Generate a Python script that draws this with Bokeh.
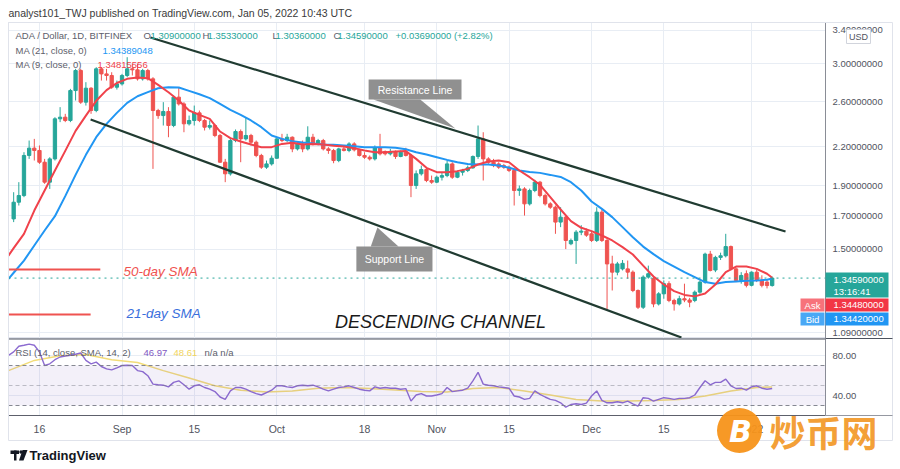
import pandas as pd
from bokeh.plotting import figure
from bokeh.models import (Range1d, FixedTicker, PrintfTickFormatter, Span,
                          BoxAnnotation, ColumnDataSource, GridBox)
from bokeh.core.properties import value
from bokeh.embed import file_html
from bokeh.resources import INLINE

# ------------------------------------------------------------------ data
header = "analyst101_TWJ published on TradingView.com, Jan 05, 2022 10:43 UTC"
candle_dates = pd.date_range("2021-08-11", "2022-01-05", freq="D")

open_ = [1.679, 1.787, 1.832, 2.128, 2.187, 2.168, 2.075, 1.926, 2.101, 2.440, 2.455, 2.425, 2.712, 2.923, 2.597, 2.736, 2.517, 2.941, 2.886, 2.869, 2.746,
         2.780, 2.869, 2.941, 2.930, 2.833, 2.923, 2.833, 2.517, 2.470, 2.508, 2.380, 2.646, 2.580, 2.395, 2.425, 2.495, 2.425, 2.365, 2.380, 2.293, 2.075, 1.987, 2.250, 2.327, 2.264, 2.293, 2.236, 2.128, 2.037, 2.062,
         2.106, 2.264, 2.250, 2.278, 2.181, 2.222, 2.181, 2.278, 2.222, 2.250, 2.181, 2.168, 2.088, 2.181, 2.168, 2.222, 2.173, 2.128, 2.114, 2.101, 2.190, 2.160, 2.141, 2.160, 2.120, 2.154, 2.128, 1.902, 1.987, 2.019, 1.938,
         1.926, 1.962, 1.974, 2.062, 1.962, 1.999, 2.012, 2.032, 2.120, 2.264, 2.101, 2.075, 2.062, 2.049, 2.037, 2.012, 1.867, 1.878, 1.776, 1.867, 1.926, 1.832, 1.776, 1.754, 1.659, 1.690, 1.530, 1.549, 1.598, 1.604,
         1.588, 1.549, 1.722, 1.549, 1.419, 1.376, 1.393, 1.393, 1.376, 1.285, 1.207, 1.351, 1.343, 1.222, 1.269, 1.318, 1.238, 1.222, 1.246, 1.240, 1.238, 1.277, 1.326, 1.472, 1.387, 1.454, 1.463, 1.514, 1.393, 1.334, 1.368,
         1.310, 1.376, 1.334, 1.326, 1.309]
high = [1.855, 1.926, 2.154, 2.250, 2.264, 2.209, 2.101, 2.114, 2.455, 2.549, 2.486, 2.729, 2.941, 2.941, 2.798, 2.746, 2.959, 2.959, 2.941, 2.904, 2.815,
        2.886, 3.072, 2.996, 2.996, 2.941, 2.941, 2.851, 2.533, 2.597, 2.549, 2.662, 2.746, 2.597, 2.470, 2.564, 2.517, 2.440, 2.425, 2.395, 2.307, 2.101, 2.264, 2.345, 2.345, 2.455, 2.307, 2.250, 2.141, 2.088, 2.128,
        2.278, 2.307, 2.307, 2.285, 2.236, 2.250, 2.373, 2.307, 2.264, 2.264, 2.195, 2.181, 2.190, 2.209, 2.236, 2.236, 2.181, 2.154, 2.128, 2.209, 2.307, 2.168, 2.181, 2.168, 2.168, 2.190, 2.141, 2.012, 2.049, 2.032, 1.974,
        1.974, 1.999, 2.088, 2.075, 2.012, 2.024, 2.049, 2.128, 2.380, 2.321, 2.114, 2.101, 2.075, 2.062, 2.049, 2.024, 1.902, 1.890, 1.880, 1.943, 1.935, 1.845, 1.787, 1.765, 1.754, 1.700, 1.560, 1.610, 1.640, 1.620,
        1.600, 1.754, 1.740, 1.560, 1.463, 1.430, 1.440, 1.437, 1.385, 1.290, 1.360, 1.410, 1.351, 1.277, 1.334, 1.330, 1.246, 1.260, 1.318, 1.250, 1.285, 1.334, 1.480, 1.490, 1.463, 1.480, 1.588, 1.520, 1.400, 1.376, 1.385,
        1.380, 1.390, 1.360, 1.340, 1.3533]
low = [1.659, 1.765, 1.821, 2.101, 2.088, 2.062, 1.914, 1.878, 2.088, 2.410, 2.410, 2.410, 2.613, 2.580, 2.564, 2.486, 2.501, 2.815, 2.815, 2.729, 2.722,
       2.763, 2.851, 2.869, 2.815, 2.815, 2.815, 2.024, 2.440, 2.380, 2.278, 2.365, 2.564, 2.321, 2.380, 2.380, 2.410, 2.336, 2.345, 2.278, 2.070, 1.926, 1.974, 2.236, 2.075, 2.250, 2.209, 2.114, 2.024, 2.024, 2.049,
       2.101, 2.236, 2.236, 2.154, 2.168, 2.154, 2.168, 2.209, 2.209, 2.168, 2.141, 2.067, 2.075, 2.160, 2.154, 2.160, 2.120, 2.101, 2.088, 2.088, 2.128, 2.128, 2.128, 2.101, 2.114, 2.120, 1.821, 1.878, 1.974, 1.926, 1.914,
       1.919, 1.938, 1.962, 1.950, 1.955, 1.974, 2.000, 2.024, 2.101, 1.938, 2.062, 2.037, 2.024, 2.024, 2.000, 1.765, 1.830, 1.700, 1.765, 1.855, 1.820, 1.765, 1.743, 1.588, 1.628, 1.500, 1.522, 1.419, 1.580, 1.570,
       1.540, 1.540, 1.540, 1.199, 1.285, 1.360, 1.385, 1.343, 1.277, 1.199, 1.199, 1.343, 1.207, 1.215, 1.246, 1.230, 1.192, 1.215, 1.230, 1.207, 1.230, 1.269, 1.318, 1.380, 1.376, 1.440, 1.454, 1.385, 1.326, 1.318, 1.300,
       1.305, 1.326, 1.300, 1.295, 1.3036]
close = [1.787, 1.832, 2.128, 2.187, 2.168, 2.075, 1.926, 2.101, 2.440, 2.455, 2.425, 2.712, 2.923, 2.597, 2.736, 2.517, 2.941, 2.886, 2.869, 2.746, 2.780,
         2.869, 2.941, 2.930, 2.833, 2.923, 2.833, 2.517, 2.470, 2.508, 2.380, 2.646, 2.580, 2.395, 2.425, 2.495, 2.425, 2.365, 2.380, 2.293, 2.075, 1.987, 2.250, 2.327, 2.264, 2.293, 2.236, 2.128, 2.037, 2.062, 2.106,
         2.264, 2.250, 2.278, 2.181, 2.222, 2.181, 2.278, 2.222, 2.250, 2.181, 2.168, 2.088, 2.181, 2.168, 2.222, 2.173, 2.128, 2.114, 2.101, 2.190, 2.141, 2.141, 2.160, 2.120, 2.154, 2.128, 1.902, 1.987, 2.019, 1.938, 1.926,
         1.962, 1.974, 2.062, 1.962, 1.999, 2.012, 2.032, 2.120, 2.264, 2.101, 2.075, 2.049, 2.037, 2.037, 2.012, 1.867, 1.878, 1.776, 1.867, 1.926, 1.832, 1.776, 1.754, 1.659, 1.690, 1.549, 1.549, 1.598, 1.604, 1.580,
         1.549, 1.722, 1.549, 1.419, 1.376, 1.419, 1.422, 1.376, 1.285, 1.207, 1.351, 1.368, 1.222, 1.269, 1.318, 1.238, 1.222, 1.246, 1.240, 1.230, 1.277, 1.326, 1.472, 1.385, 1.454, 1.463, 1.514, 1.393, 1.334, 1.359, 1.310,
         1.376, 1.334, 1.310, 1.309, 1.3459]

# moving averages (every second day)
ma_dates = ([pd.Timestamp("2021-08-10")] + list(pd.date_range("2021-08-11", periods=74, freq="2D"))
            + [pd.Timestamp("2022-01-05")])
ma21 = [1.342, 1.373, 1.437, 1.520, 1.608, 1.696, 1.828, 1.979, 2.133, 2.278, 2.395, 2.495, 2.590, 2.655, 2.696, 2.736, 2.746, 2.743, 2.709, 2.675, 2.636, 2.580, 2.523, 2.477, 2.425, 2.365, 2.293,
        2.264, 2.245, 2.233, 2.225, 2.217, 2.214, 2.209, 2.203, 2.195, 2.195, 2.195, 2.190, 2.178, 2.154, 2.135, 2.114, 2.093, 2.075, 2.062, 2.057, 2.057, 2.049, 2.032, 2.012, 2.000,
        1.994, 1.979, 1.964, 1.926, 1.867, 1.792, 1.743, 1.690, 1.628, 1.568, 1.514, 1.472, 1.434, 1.405, 1.376, 1.351, 1.326, 1.318, 1.326, 1.329, 1.332, 1.334, 1.338,
        1.344]
ma9 = [1.464, 1.505, 1.588, 1.732, 1.867, 2.012, 2.165, 2.333, 2.470, 2.610, 2.716, 2.790, 2.833, 2.847, 2.840, 2.770, 2.695, 2.613, 2.517, 2.477, 2.440, 2.327, 2.270, 2.242, 2.217, 2.195, 2.195,
       2.222, 2.231, 2.217, 2.222, 2.217, 2.206, 2.200, 2.187, 2.168, 2.154, 2.154, 2.160, 2.163, 2.101, 2.032, 1.999, 1.999, 2.007, 2.024, 2.057, 2.080, 2.088, 2.075, 2.012, 1.962,
       1.907, 1.821, 1.739, 1.665, 1.624, 1.604, 1.578, 1.549, 1.511, 1.470, 1.410, 1.354, 1.314, 1.282, 1.264, 1.257, 1.271, 1.314, 1.376, 1.405, 1.405, 1.393, 1.368,
       1.348]

rsi_dates = pd.date_range("2021-08-10", "2022-01-05", freq="D")
rsi = [80.2, 83.6, 89.3, 90.3, 91.4, 90.3, 83.6, 70.0, 71.7, 75.8, 78.5, 79.5, 80.2, 81.2, 82.5, 75.1, 71.7, 73.4, 69.0, 66.6,
       65.6, 67.6, 70.0, 70.3, 70.0, 64.9, 63.9, 59.8, 51.4, 50.7, 50.3, 48.6, 53.1, 54.7, 50.7, 46.3, 49.7, 50.7, 48.0, 46.3,
       43.9, 38.5, 36.1, 44.6, 48.0, 48.0, 46.3, 43.9, 41.9, 40.5, 42.9, 45.3, 49.7, 49.7, 48.6, 48.0, 49.7, 50.3, 49.7, 50.3,
       48.6, 46.3, 44.6, 46.3, 48.0, 48.6, 49.7, 48.0, 46.3, 45.3, 44.6, 48.6, 47.3, 48.0, 47.3, 47.3, 46.3, 46.9, 34.4, 40.5,
       41.9, 39.5, 39.5, 40.5, 41.9, 48.0, 43.9, 44.6, 45.3, 47.3, 54.7, 63.2, 51.4, 50.3, 49.7, 48.6, 48.0, 47.3, 39.5, 38.5,
       36.1, 37.1, 44.6, 41.2, 38.5, 36.1, 35.1, 32.7, 28.3, 31.0, 31.7, 31.0, 32.4, 39.5, 44.6, 35.1, 32.7, 32.7, 33.7, 32.7,
       34.4, 31.7, 29.3, 37.8, 37.1, 34.4, 36.1, 37.8, 37.1, 36.1, 37.1, 37.1, 37.8, 40.5, 48.0, 54.7, 50.7, 53.1, 53.1, 56.4,
       49.7, 47.0, 47.3, 45.3, 48.6, 49.7, 47.3, 46.3, 46.97]
rsi_sma_dates = list(pd.date_range("2021-08-10", periods=30, freq="5D")) + [pd.Timestamp("2022-01-05")]
rsi_sma = [64.9, 75.1, 79.8, 81.0, 75.8, 73.0, 64.9, 57.5, 49.7, 45.3, 43.6, 44.6, 47.3, 48.0, 47.0, 45.6, 43.9, 43.6,
           47.0, 48.0, 44.6, 40.5, 36.1, 34.4, 34.4, 35.1, 36.1, 39.5, 44.6, 48.0, 48.61]

price_ticks = [1.09, 1.5, 1.7, 1.9, 2.2, 2.6, 3.0, 3.4]
rsi_ticks = [40, 80]
time_tick_dates = ["2021-08-16", "2021-09-01", "2021-09-15", "2021-10-01", "2021-10-18",
                   "2021-11-01", "2021-11-15", "2021-12-01", "2021-12-15", "2022-01-01"]
time_tick_labels = ["16", "Sep", "15", "Oct", "18", "Nov", "15", "Dec", "15", "2022"]
last_price = 1.3459

# drawings (date, price) made by the author on the chart
res_x = ["2021-09-06 12:00", "2022-01-07 14:00"]
res_y = [3.306, 1.602]
sup_x = ["2021-08-25 22:00", "2021-12-18 10:00"]
sup_y = [2.434, 1.078]
sma50_x = ["2021-08-10 00:00", "2021-08-27 19:00"]
sma50_y = [1.390, 1.390]
sma21_x = ["2021-08-10 00:00", "2021-08-25 22:00"]
sma21_y = [1.175, 1.175]
res_box = ("2021-10-18 19:00", "2021-11-05 19:00", 2.622, 2.826)
res_ptr_x = ["2021-10-19 17:00", "2021-10-28 19:00", "2021-11-04 14:00"]
res_ptr_y = [2.622, 2.622, 2.353]
sup_box = ("2021-10-16 10:00", "2021-10-31 04:00", 1.379, 1.514)
sup_ptr_x = ["2021-10-19 05:00", "2021-10-24 14:00", "2021-10-20 12:00"]
sup_ptr_y = [1.514, 1.514, 1.626]

# ------------------------------------------------------------------ style
FONT = "Liberation Sans"
UP, DN = "#26a69a", "#ef5350"
GRID = "#e8edf4"
AXTXT = "#50535e"
GRAY = "#5d606b"
T = pd.Timestamp
ms = lambda s: T(s).value / 1e6

xr = Range1d(start=T("2021-08-10 00:00"), end=T("2022-01-15 08:00"))
time_ticks = [ms(s) for s in time_tick_dates]


def style_axis(ax, size):
    ax.major_tick_line_color = None
    ax.minor_tick_line_color = None
    ax.major_tick_out = 0
    ax.major_tick_in = 0
    ax.minor_tick_out = 0
    ax.minor_tick_in = 0
    ax.major_label_text_font = FONT
    ax.major_label_text_font_size = size
    ax.major_label_text_color = AXTXT
    ax.major_label_standoff = 7


# ------------------------------------------------------------------ price pane
p1 = figure(width=900, height=338, x_axis_type="datetime", y_axis_type="log",
            y_axis_location="right", x_range=xr, y_range=Range1d(1.074, 3.497),
            toolbar_location=None, output_backend="svg",
            min_border_left=8, min_border_right=75, min_border_top=22, min_border_bottom=0)
p1.outline_line_color = "#e0e3eb"
p1.xaxis.visible = False
p1.xaxis.ticker = FixedTicker(ticks=time_ticks)
# the lowest label sits right on the pane edge: lift its anchor a touch so it is not cut
axis_ticks = [t if t != min(price_ticks) else t * 1.0075 for t in price_ticks]
p1.yaxis.ticker = FixedTicker(ticks=axis_ticks)
p1.yaxis.formatter = PrintfTickFormatter(format="%.8f")
p1.yaxis.major_label_overrides = {a: "%.8f" % t for a, t in zip(axis_ticks, price_ticks)}
style_axis(p1.yaxis[0], "9.5px")
p1.yaxis.axis_line_color = "#8a8d96"
p1.xgrid.grid_line_color = GRID
p1.ygrid.grid_line_color = GRID

src = ColumnDataSource(dict(x=candle_dates, o=open_, h=high, l=low, c=close,
                            col=[UP if c >= o else DN for o, c in zip(open_, close)]))
p1.segment(x0="x", y0="h", x1="x", y1="l", line_color="col", line_width=1, source=src)
p1.vbar(x="x", width=0.64 * 86400000, top="o", bottom="c", fill_color="col",
        line_color="col", source=src)

p1.line(ma_dates, ma21, line_color="#2196f3", line_width=2)
p1.line(ma_dates, ma9, line_color="#f0424b", line_width=2)

p1.add_layout(Span(location=last_price, dimension="width", line_color=UP,
                   line_dash="dotted", line_width=1))

p1.line([T(s) for s in res_x], res_y, line_color="#203b31", line_width=2.2)
p1.line([T(s) for s in sup_x], sup_y, line_color="#203b31", line_width=2.2)
p1.line([T(s) for s in sma50_x], sma50_y, line_color="#ef5350", line_width=2)
p1.line([T(s) for s in sma21_x], sma21_y, line_color="#ef5350", line_width=2)

CALL = "#878787"
for box, px, py in ((res_box, res_ptr_x, res_ptr_y), (sup_box, sup_ptr_x, sup_ptr_y)):
    p1.quad(left=[T(box[0])], right=[T(box[1])], bottom=[box[2]], top=[box[3]],
            fill_color=CALL, fill_alpha=0.92, line_color=None)
    p1.patch([T(s) for s in px], py, fill_color=CALL, fill_alpha=0.92, line_color=None)
p1.text(x=[T("2021-10-27 19:00"), T("2021-10-23 19:00")], y=[2.722, 1.448],
        text=["Resistance Line", "Support Line"], text_color="white",
        text_font=value(FONT), text_font_size="10.5px", text_align="center",
        text_baseline="middle")
p1.text(x=[T("2021-09-01 07:00")], y=[1.379], text=["50-day SMA"], text_color="#ef5350",
        text_font=value(FONT), text_font_style="italic", text_font_size="13.5px",
        text_baseline="middle")
p1.text(x=[T("2021-09-01 21:00")], y=[1.179], text=["21-day SMA"], text_color="#3a6fdc",
        text_font=value(FONT), text_font_style="italic", text_font_size="13.5px",
        text_baseline="middle")
p1.text(x=[T("2021-11-01 17:00")], y=[1.144], text=["DESCENDING CHANNEL"], text_color="#1a1a1a",
        text_font=value(FONT), text_font_style="italic", text_font_size="18px",
        text_align="center", text_baseline="middle")

# ------------------------------------------------------------------ RSI pane
p2 = figure(width=900, height=131, x_axis_type="datetime", x_range=xr,
            y_range=Range1d(20, 97), y_axis_location="right",
            toolbar_location=None, output_backend="svg",
            min_border_left=8, min_border_right=75, min_border_top=0, min_border_bottom=54)
p2.outline_line_color = "#e0e3eb"
p2.xaxis.ticker = FixedTicker(ticks=time_ticks)
p2.xaxis.major_label_overrides = {t: l for t, l in zip(time_ticks, time_tick_labels)}
p2.yaxis.ticker = FixedTicker(ticks=rsi_ticks)
p2.yaxis.formatter = PrintfTickFormatter(format="%.2f")
style_axis(p2.xaxis[0], "10.5px")
style_axis(p2.yaxis[0], "9.5px")
p2.xaxis.axis_line_color = "#5d606b"
p2.yaxis.axis_line_color = "#8a8d96"
p2.xgrid.grid_line_color = GRID
p2.ygrid.grid_line_color = GRID
p2.add_layout(Span(location=97, dimension="width", line_color="#4c525e", line_width=2))
p2.add_layout(BoxAnnotation(bottom=30, top=70, fill_color="#7e57c2", fill_alpha=0.09,
                            line_color=None))
for lvl, a in ((70, 0.9), (50, 0.45), (30, 0.9)):
    p2.add_layout(Span(location=lvl, dimension="width", line_color="#787b86",
                       line_alpha=a, line_dash="4 3", line_width=1))
p2.line(rsi_sma_dates, rsi_sma, line_color="#f2dc78", line_width=1.5)
p2.line(rsi_dates, rsi, line_color="#8c6bd0", line_width=1.4)

# ------------------------------------------------------------------ overlay (page pixels)
ov = figure(width=900, height=469, x_range=Range1d(0, 900), y_range=Range1d(469, 0),
            x_axis_location=None, y_axis_location=None, toolbar_location=None,
            output_backend="svg", min_border=0)
ov.min_border_left = ov.min_border_right = ov.min_border_top = ov.min_border_bottom = 0
ov.frame_align = False
ov.background_fill_color = None
ov.border_fill_color = None
ov.outline_line_color = None
ov.xgrid.visible = False
ov.ygrid.visible = False


def otext(x, y, t, color, size="9.5px", align="left", style="normal", font=FONT, alpha=1.0):
    ov.text(x=[x], y=[y], text=[t], text_color=color, text_font=value(font),
            text_font_size=size, text_align=align, text_baseline="middle",
            text_font_style=style, text_alpha=alpha)


# frame borders that run across the price scale
ov.quad(left=[8], right=[892], top=[22], bottom=[440], fill_color=None, line_color="#e0e3eb")
ov.segment(x0=[825], y0=[338], x1=[892], y1=[338], line_color="#4c525e", line_width=1.2)
ov.segment(x0=[825], y0=[415], x1=[892], y1=[415], line_color="#9598a1", line_width=1)

otext(8, 12, header, "#3a3a3a", size="10.5px")
otext(15, 35, "ADA / Dollar, 1D, BITFINEX", GRAY)
for x, t, c in ((143, "O", GRAY), (150, "1.30900000", UP), (202, "H", GRAY), (207, "1.35330000", UP),
                (272, "L", GRAY), (275, "1.30360000", UP), (333, "C", GRAY), (337, "1.34590000", UP),
                (395, "+0.03690000 (+2.82%)", UP)):
    otext(x, 35, t, c)
otext(15, 50, "MA (21, close, 0)", GRAY)
otext(102, 50, "1.34389048", "#2196f3")
otext(15, 64, "MA (9, close, 0)", GRAY)
otext(97, 64, "1.34815556", "#f0424b")
otext(15, 352, "RSI (14, close, SMA, 14, 2)", GRAY)
otext(143, 352, "46.97", "#7e57c2")
otext(173, 352, "48.61", "#f2d45c")
otext(204, 352, "n/a  n/a", GRAY)

# price-scale tags
ov.quad(left=[825, 825, 800, 825, 800], right=[888, 888, 824, 888, 824],
        top=[272, 298, 298, 312, 312], bottom=[297, 311, 311, 325, 325],
        fill_color=[UP, "#f23645", "#f7727b", "#2196f3", "#4aa8f5"], line_color=None)
otext(833, 279, "1.34590000", "white")
otext(833, 290.5, "13:16:41", "white")
otext(812, 304.5, "Ask", "white", align="center")
otext(833, 304.5, "1.34480000", "white")
otext(812, 318.5, "Bid", "white", align="center")
otext(833, 318.5, "1.34420000", "white")
ov.quad(left=[846], right=[870], top=[29], bottom=[43], fill_color="white", line_color="#d1d4dc")
otext(858, 36, "USD", "#50535e", size="9px", align="center")

# footer
ov.quad(left=[10, 13.5], right=[18.5, 16], top=[450, 450], bottom=[453.5, 460],
        fill_color="#131722", line_color=None)
ov.scatter(x=[20.5], y=[451.5], size=3.5, fill_color="#131722", line_color=None)
ov.patch([22, 27, 23, 18.5], [449.5, 449.5, 460, 460], fill_color="#131722", line_color=None)
otext(29, 455, "TradingView", "#131722", size="13px", style="bold")

# watermark
ov.scatter(x=[739], y=[430], size=45, fill_color="#f7931a", line_color=None, fill_alpha=0.95)
otext(740, 431, "B", "white", size="30px", align="center", style="bold italic", font="DejaVu Sans")
otext(769, 430, "炒币网", "#f39a2b", size="36px", style="bold", font="Noto Sans CJK SC", alpha=0.95)

layout = GridBox(children=[(p1, 0, 0), (p2, 1, 0), (ov, 0, 0, 2, 1)])
open("out.html", "w").write(file_html(layout, INLINE))
